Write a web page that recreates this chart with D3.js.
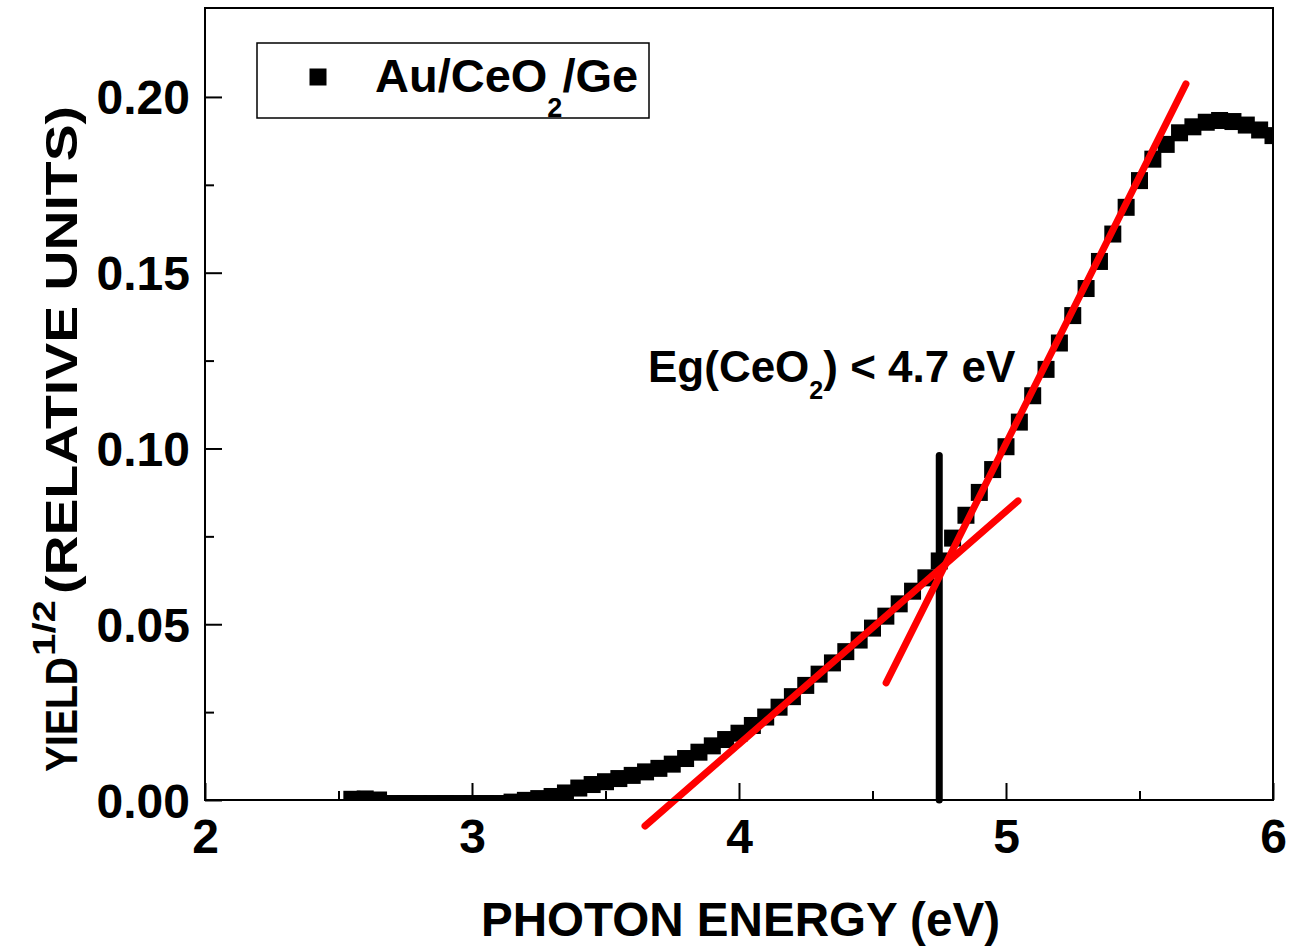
<!DOCTYPE html>
<html>
<head>
<meta charset="utf-8">
<script src="https://cdn.jsdelivr.net/npm/d3@7"></script>
<style>
  body { margin: 0; background: #fff; }
  svg { display: block; font-family: "Liberation Sans", Arial, sans-serif; font-weight: bold; }
</style>
</head>
<body>
<svg width="1293" height="948"></svg>
<script>
const svg = d3.select("svg");

// photon energy (eV) and sqrt(yield)
const energy = [
  2.55, 2.60, 2.65, 2.70, 2.75, 2.80, 2.85, 2.90, 2.95, 3.00,
  3.05, 3.10, 3.15, 3.20, 3.25, 3.30, 3.35, 3.40, 3.45, 3.50,
  3.55, 3.60, 3.65, 3.70, 3.75, 3.80, 3.85, 3.90, 3.95, 4.00,
  4.05, 4.10, 4.15, 4.20, 4.25, 4.30, 4.35, 4.40, 4.45, 4.50,
  4.55, 4.60, 4.65, 4.70, 4.75, 4.80, 4.85, 4.90, 4.95, 5.00,
  5.05, 5.10, 5.15, 5.20, 5.25, 5.30, 5.35, 5.40, 5.45, 5.50,
  5.55, 5.60, 5.65, 5.70, 5.75, 5.80, 5.85, 5.90, 5.95, 6.00
];
const yieldSqrt = [
  0.0002, 0.0003, 0.0000, -0.0010, -0.0010, -0.0010, -0.0010, -0.0010, -0.0010, -0.0010,
  -0.0010, -0.0010, -0.0006, -0.0001, 0.0004, 0.0010, 0.0020, 0.0034, 0.0044, 0.0052,
  0.0061, 0.0070, 0.0080, 0.0090, 0.0102, 0.0118, 0.0136, 0.0154, 0.0172, 0.0190,
  0.0212, 0.0236, 0.0264, 0.0294, 0.0326, 0.0358, 0.0390, 0.0422, 0.0455, 0.0489,
  0.0523, 0.0558, 0.0594, 0.0632, 0.0680, 0.0745, 0.0810, 0.0875, 0.0940, 0.1005,
  0.1075, 0.1150, 0.1225, 0.1300, 0.1378, 0.1455, 0.1532, 0.1610, 0.1686, 0.1762,
  0.1823, 0.1865, 0.1898, 0.1915, 0.1928, 0.1933, 0.1930, 0.1920, 0.1906, 0.1890
];

// linear fits and band-gap marker
const fitLow = [[3.648, -0.0074], [5.045, 0.0851]];
const fitHigh = [[4.551, 0.0333], [5.674, 0.2037]];
const gapLine = [[4.75, 0], [4.75, 0.098]];

const xTicks = [2, 3, 4, 5, 6];
const xMinor = [2.5, 3.5, 4.5, 5.5];
const yTicks = [0, 0.05, 0.10, 0.15, 0.20];
const yMinor = [0.025, 0.075, 0.125, 0.175];

const plotL = 205, plotR = 1273, plotT = 8, plotB = 800;

const x = d3.scaleLinear().domain([2, 6]).range([plotL, plotR]);
const y = d3.scaleLinear().domain([0, 0.2253]).range([plotB, plotT]);

svg.append("rect").attr("width", 1293).attr("height", 948).attr("fill", "#fff");

svg.append("defs").append("clipPath").attr("id", "plot")
  .append("rect")
  .attr("x", plotL).attr("y", plotT)
  .attr("width", plotR - plotL).attr("height", plotB - plotT);

// data squares
const pts = energy.map((e, i) => [e, yieldSqrt[i]]);
const size = 17;
svg.append("g").attr("clip-path", "url(#plot)")
  .selectAll("rect")
  .data(pts)
  .enter()
  .append("rect")
  .attr("x", d => x(d[0]) - size / 2)
  .attr("y", d => y(d[1]) - size / 2)
  .attr("width", size)
  .attr("height", size)
  .attr("fill", "#000");

const line = d3.line().x(d => x(d[0])).y(d => y(d[1]));

svg.append("path")
  .attr("d", line(gapLine))
  .attr("stroke", "#000").attr("stroke-width", 7)
  .attr("stroke-linecap", "round").attr("fill", "none");

[fitLow, fitHigh].forEach(seg => {
  svg.append("path")
    .attr("d", line(seg))
    .attr("stroke", "#ff0000").attr("stroke-width", 7)
    .attr("stroke-linecap", "round").attr("fill", "none");
});

// axes
const xAxis = svg.append("g")
  .attr("transform", `translate(0,${plotB})`)
  .call(d3.axisBottom(x).tickValues(xTicks).tickSize(-17).tickPadding(22).tickFormat(d3.format("d")));
const xAxisMinor = svg.append("g")
  .attr("transform", `translate(0,${plotB})`)
  .call(d3.axisBottom(x).tickValues(xMinor).tickSize(-9).tickFormat(""));
const yAxis = svg.append("g")
  .attr("transform", `translate(${plotL},0)`)
  .call(d3.axisLeft(y).tickValues(yTicks).tickSize(-17).tickPadding(15).tickFormat(d3.format(".2f")));
const yAxisMinor = svg.append("g")
  .attr("transform", `translate(${plotL},0)`)
  .call(d3.axisLeft(y).tickValues(yMinor).tickSize(-9).tickFormat(""));

[xAxis, xAxisMinor, yAxis, yAxisMinor].forEach(g => {
  g.select(".domain").remove();
  g.selectAll(".tick line").attr("stroke", "#000").attr("stroke-width", 2);
  g.selectAll("text")
    .attr("fill", "#000")
    .attr("font-family", "Liberation Sans, Arial, sans-serif")
    .attr("font-weight", "bold")
    .attr("font-size", 48);
});
xAxis.selectAll("text").attr("dy", null).attr("y", 53);
yAxis.selectAll("text").attr("dy", null).attr("y", 17);

// frame
svg.append("rect")
  .attr("x", plotL).attr("y", plotT)
  .attr("width", plotR - plotL).attr("height", plotB - plotT)
  .attr("fill", "none").attr("stroke", "#000").attr("stroke-width", 2);

// axis titles
svg.append("text")
  .attr("x", 481).attr("y", 936)
  .attr("font-size", 48)
  .attr("textLength", 519).attr("lengthAdjust", "spacingAndGlyphs")
  .text("PHOTON ENERGY (eV)");

svg.append("text")
  .attr("transform", "translate(77,772) rotate(-90)")
  .attr("font-size", 45)
  .attr("textLength", 115).attr("lengthAdjust", "spacingAndGlyphs")
  .text("YIELD");
svg.append("text")
  .attr("transform", "translate(55,656) rotate(-90)")
  .attr("font-size", 32)
  .attr("textLength", 56).attr("lengthAdjust", "spacingAndGlyphs")
  .text("1/2");
svg.append("text")
  .attr("transform", "translate(77,594) rotate(-90)")
  .attr("font-size", 45)
  .attr("textLength", 488).attr("lengthAdjust", "spacingAndGlyphs")
  .text("(RELATIVE UNITS)");

// legend
svg.append("rect")
  .attr("x", 257).attr("y", 43).attr("width", 392).attr("height", 75)
  .attr("fill", "#fff").attr("stroke", "#000").attr("stroke-width", 1.5);
svg.append("rect")
  .attr("x", 318 - size / 2).attr("y", 77 - size / 2)
  .attr("width", size).attr("height", size).attr("fill", "#000");
const leg = svg.append("text").attr("x", 375).attr("y", 92).attr("font-size", 47);
leg.append("tspan").text("Au/CeO");
leg.append("tspan").attr("font-size", 27).attr("dy", 25).text("2");
leg.append("tspan").attr("dy", -25).text("/Ge");

// annotation
const ann = svg.append("text").attr("x", 648).attr("y", 382).attr("font-size", 44);
ann.append("tspan").text("Eg(CeO");
ann.append("tspan").attr("font-size", 25).attr("dy", 17).text("2");
ann.append("tspan").attr("dy", -17).text(") < 4.7 eV");
</script>
</body>
</html>
